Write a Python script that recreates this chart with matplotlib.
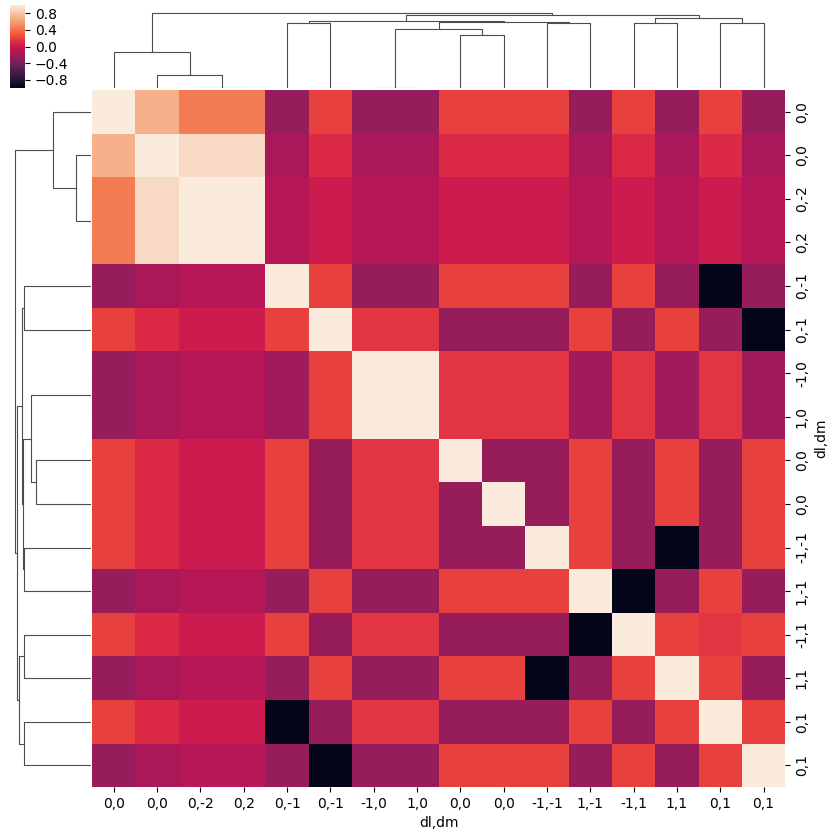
import matplotlib
matplotlib.use("Agg")
from matplotlib import pyplot as plt
import numpy as np
import seaborn as sns

labels = ["0,0", "0,0", "0,-2", "0,2", "0,-1", "0,-1", "-1,0", "1,0",
          "0,0", "0,0", "-1,-1", "1,-1", "-1,1", "1,1", "0,1", "0,1"]

values = [
    [1.0, 0.7, 0.45, 0.45, -0.25, 0.2, -0.25, -0.25, 0.2, 0.2, 0.2, -0.25, 0.2, -0.25, 0.2, -0.25],
    [0.7, 1.0, 0.9, 0.9, -0.15, 0.1, -0.15, -0.15, 0.1, 0.1, 0.1, -0.15, 0.1, -0.15, 0.1, -0.15],
    [0.45, 0.9, 1.0, 1.0, -0.1, 0.0, -0.1, -0.1, 0.0, 0.0, 0.0, -0.1, 0.0, -0.1, 0.0, -0.1],
    [0.45, 0.9, 1.0, 1.0, -0.1, 0.0, -0.1, -0.1, 0.0, 0.0, 0.0, -0.1, 0.0, -0.1, 0.0, -0.1],
    [-0.25, -0.15, -0.1, -0.1, 1.0, 0.2, -0.25, -0.25, 0.2, 0.2, 0.2, -0.25, 0.2, -0.25, -1.0, -0.25],
    [0.2, 0.1, 0.0, 0.0, 0.2, 1.0, 0.15, 0.15, -0.25, -0.25, -0.25, 0.2, -0.25, 0.2, -0.25, -1.0],
    [-0.25, -0.15, -0.1, -0.1, -0.2, 0.2, 1.0, 1.0, 0.15, 0.15, 0.15, -0.2, 0.15, -0.2, 0.15, -0.2],
    [-0.25, -0.15, -0.1, -0.1, -0.2, 0.2, 1.0, 1.0, 0.15, 0.15, 0.15, -0.2, 0.15, -0.2, 0.15, -0.2],
    [0.2, 0.1, 0.0, 0.0, 0.2, -0.25, 0.15, 0.15, 1.0, -0.25, -0.25, 0.2, -0.25, 0.2, -0.25, 0.2],
    [0.2, 0.1, 0.0, 0.0, 0.2, -0.25, 0.15, 0.15, -0.25, 1.0, -0.25, 0.2, -0.25, 0.2, -0.25, 0.2],
    [0.2, 0.1, 0.0, 0.0, 0.2, -0.25, 0.15, 0.15, -0.25, -0.25, 1.0, 0.2, -0.25, -1.0, -0.25, 0.2],
    [-0.25, -0.15, -0.1, -0.1, -0.25, 0.2, -0.25, -0.25, 0.2, 0.2, 0.2, 1.0, -1.0, -0.25, 0.2, -0.25],
    [0.2, 0.1, 0.0, 0.0, 0.2, -0.25, 0.15, 0.15, -0.25, -0.25, -0.25, -1.0, 1.0, 0.2, 0.15, 0.2],
    [-0.25, -0.15, -0.1, -0.1, -0.25, 0.2, -0.25, -0.25, 0.2, 0.2, -1.0, -0.25, 0.2, 1.0, 0.2, -0.25],
    [0.2, 0.1, 0.0, 0.0, -1.0, -0.25, 0.15, 0.15, -0.25, -0.25, -0.25, 0.2, -0.25, 0.2, 1.0, 0.2],
    [-0.25, -0.15, -0.1, -0.1, -0.25, -1.0, -0.25, -0.25, 0.2, 0.2, 0.2, -0.25, 0.2, -0.25, 0.2, 1.0],
]

# merges: (left, right, height); ids >= 16 are earlier merges
row_merges = [(2, 3, 0), (1, 16, 44), (0, 17, 113), (6, 7, 0), (8, 9, 164),
              (19, 20, 179), (10, 11, 200), (21, 22, 203), (4, 5, 200), (24, 23, 206),
              (12, 13, 200), (14, 15, 200), (26, 27, 215), (25, 28, 221), (18, 29, 227)]
col_merges = [(2, 3, 0), (1, 16, 40), (0, 17, 109), (6, 7, 0), (8, 9, 160),
              (19, 20, 178), (10, 11, 196), (21, 22, 199), (4, 5, 196), (24, 23, 202),
              (12, 13, 196), (14, 15, 196), (26, 27, 211), (25, 28, 220), (18, 29, 226)]


def dendro_lines(merges, n):
    pos = {i: i + 0.5 for i in range(n)}
    hgt = {i: 0.0 for i in range(n)}
    segs = []
    for k, (a, b, h) in enumerate(merges):
        segs.append(([pos[a], pos[a], pos[b], pos[b]], [hgt[a], h, h, hgt[b]]))
        pos[n + k] = (pos[a] + pos[b]) / 2.0
        hgt[n + k] = h
    return segs


fig = plt.figure(figsize=(8.38, 8.33), dpi=100)
ax = fig.add_axes([0.110, 0.055, 0.827, 0.837])
ax_row = fig.add_axes([0.0, 0.055, 0.108, 0.837])
ax_col = fig.add_axes([0.110, 0.894, 0.827, 0.106])
cax = fig.add_axes([0.012, 0.894, 0.018, 0.1])

data = np.array(values)
sns.heatmap(data, ax=ax, cmap="rocket", vmin=-1, vmax=1, cbar_ax=cax,
            xticklabels=labels, yticklabels=labels)
ax.yaxis.tick_right()
ax.yaxis.set_label_position("right")
ax.set_yticklabels(labels, rotation=90, va="center")
ax.set_xticklabels(labels, rotation=0)
ax.set_xlabel("dl,dm")
ax.set_ylabel("dl,dm")
cax.set_yticks([-0.8, -0.4, 0.0, 0.4, 0.8])

for xs, ys in dendro_lines(row_merges, 16):
    ax_row.plot(ys, xs, color="#4d4d4d", lw=0.8)
ax_row.set_ylim(16, 0)
ax_row.set_xlim(227 * 1.2, 0)
ax_row.axis("off")

for xs, ys in dendro_lines(col_merges, 16):
    ax_col.plot(xs, ys, color="#4d4d4d", lw=0.8)
ax_col.set_xlim(0, 16)
ax_col.set_ylim(0, 226 * 1.17)
ax_col.axis("off")

plt.savefig("out.png")
